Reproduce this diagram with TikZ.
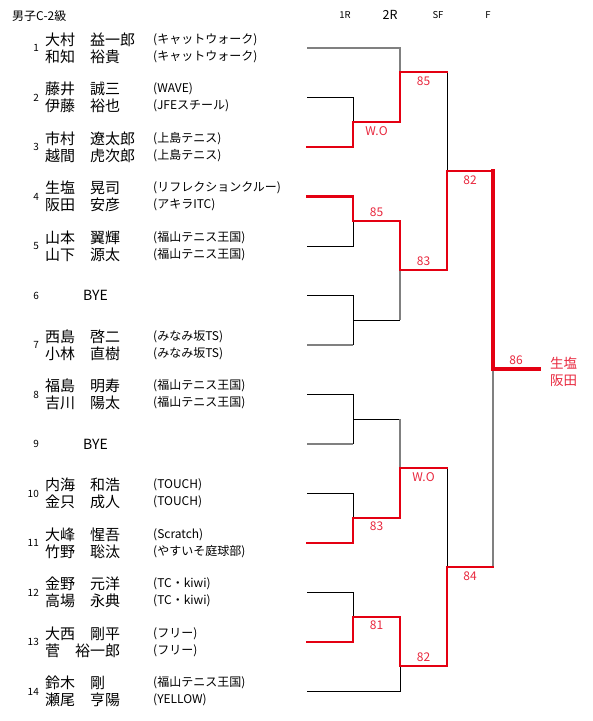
\documentclass[tikz,border=0pt]{standalone}
\usepackage{fontspec}
\setmainfont{Noto Sans CJK JP}
\usetikzlibrary{positioning,calc}

\definecolor{winred}{RGB}{228,0,18}
\definecolor{scorered}{RGB}{232,40,62}
\definecolor{losegray}{RGB}{128,128,128}

\begin{document}
\begin{tikzpicture}[
    x=1pt, y=-1pt,
    num/.style={anchor=east, inner sep=0pt, font=\fontsize{10}{12}\selectfont},
    player/.style={anchor=west, inner sep=0pt, align=left, font=\fontsize{15}{17}\selectfont},
    club/.style={anchor=west, inner sep=0pt, align=left, font=\fontsize{12}{17}\selectfont},
    bye/.style={anchor=west, inner sep=0pt, font=\fontsize{14}{16}\selectfont},
    hdr/.style={inner sep=0pt, font=\fontsize{9.5}{11}\selectfont},
    score/.style={inner sep=0pt, font=\fontsize{12}{13}\selectfont, text=scorered},
    winner/.style={inner sep=0pt, align=left, font=\fontsize{13.5}{17}\selectfont, text=scorered},
    thinline/.style={line width=0.9pt, black},
    grayline/.style={line width=1.3pt, losegray},
    redline/.style={line width=2.3pt, winred, line cap=rect},
    redthick/.style={line width=2.8pt, winred, line cap=rect},
    redfinal/.style={line width=3.2pt, winred, line cap=rect},
]
\useasboundingbox (0,0) rectangle (593,721);

% Title and round headers
\node[anchor=west, inner sep=0pt, font=\fontsize{12}{13}\selectfont] (title) at (12,16) {男子C-2級};
\node[hdr] (h1) at (345,15) {1R};
\node[hdr, font=\fontsize{12.5}{14}\selectfont] (h2) at (390,15) {2R};
\node[hdr] (h3) at (438,15) {SF};
\node[hdr] (h4) at (488,15) {F};

% Entries
\node[num] (n1) at (39,48) {1};
\node[player] (p1) at (45,48) {大村　益一郎\\和知　裕貴};
\node[club] (c1) at (153,48) {(キャットウォーク)\\(キャットウォーク)};

\node[num] (n2) at (39,97.5) {2};
\node[player] (p2) at (45,97.5) {藤井　誠三\\伊藤　裕也};
\node[club] (c2) at (153,97.5) {(WAVE)\\(JFEスチール)};

\node[num] (n3) at (39,147) {3};
\node[player] (p3) at (45,147) {市村　遼太郎\\越間　虎次郎};
\node[club] (c3) at (153,147) {(上島テニス)\\(上島テニス)};

\node[num] (n4) at (39,196.5) {4};
\node[player] (p4) at (45,196.5) {生塩　晃司\\阪田　安彦};
\node[club] (c4) at (153,196.5) {(リフレクションクルー)\\(アキラITC)};

\node[num] (n5) at (39,246) {5};
\node[player] (p5) at (45,246) {山本　翼輝\\山下　源太};
\node[club] (c5) at (153,246) {(福山テニス王国)\\(福山テニス王国)};

\node[num] (n6) at (39,295.5) {6};
\node[bye] (p6) at (83,295.5) {BYE};

\node[num] (n7) at (39,345) {7};
\node[player] (p7) at (45,345) {西島　啓二\\小林　直樹};
\node[club] (c7) at (153,345) {(みなみ坂TS)\\(みなみ坂TS)};

\node[num] (n8) at (39,394.5) {8};
\node[player] (p8) at (45,394.5) {福島　明寿\\吉川　陽太};
\node[club] (c8) at (153,394.5) {(福山テニス王国)\\(福山テニス王国)};

\node[num] (n9) at (39,444) {9};
\node[bye] (p9) at (83,444) {BYE};

\node[num] (n10) at (39,493.5) {10};
\node[player] (p10) at (45,493.5) {内海　和浩\\金只　成人};
\node[club] (c10) at (153,493.5) {(TOUCH)\\(TOUCH)};

\node[num] (n11) at (39,543) {11};
\node[player] (p11) at (45,543) {大峰　惺吾\\竹野　聡汰};
\node[club] (c11) at (153,543) {(Scratch)\\(やすいそ庭球部)};

\node[num] (n12) at (39,592.5) {12};
\node[player] (p12) at (45,592.5) {金野　元洋\\高場　永典};
\node[club] (c12) at (153,592.5) {(TC・kiwi)\\(TC・kiwi)};

\node[num] (n13) at (39,642) {13};
\node[player] (p13) at (45,642) {大西　剛平\\菅　裕一郎};
\node[club] (c13) at (153,642) {(フリー)\\(フリー)};

\node[num] (n14) at (39,691.5) {14};
\node[player] (p14) at (45,691.5) {鈴木　剛\\瀬尾　亨陽};
\node[club] (c14) at (153,691.5) {(福山テニス王国)\\(YELLOW)};

% Bracket points
\coordinate (e1) at (307,48);
\coordinate (e2) at (307,97.5);
\coordinate (e3) at (307,147);
\coordinate (e4) at (307,196.5);
\coordinate (e5) at (307,246);
\coordinate (e6) at (307,295.5);
\coordinate (e7) at (307,345);
\coordinate (e8) at (307,394.5);
\coordinate (e9) at (307,444);
\coordinate (e10) at (307,493.5);
\coordinate (e11) at (307,543);
\coordinate (e12) at (307,592.5);
\coordinate (e13) at (307,642);
\coordinate (e14) at (307,691.5);
\coordinate (m23) at (353,122);
\coordinate (m45) at (353,221);
\coordinate (m67) at (353,320);
\coordinate (m89) at (353,419);
\coordinate (m1011) at (353,518);
\coordinate (m1213) at (353,617);
\coordinate (q1) at (400,72);
\coordinate (q2) at (400,270);
\coordinate (q3) at (400,468);
\coordinate (q4) at (400,666);
\coordinate (s1) at (447,171);
\coordinate (s2) at (447,567);
\coordinate (fin) at (493,369);
\coordinate (champ) at (539,369);

% Losing lines
\draw[grayline] (e1) -| (q1);
\draw[thinline] (e2) -| (m23);
\draw[thinline] (e5) -| (m45);
\draw[thinline] (e6) -| (m67);
\draw[grayline] (e7) -- (e7 -| m67);
\draw[thinline] (e7 -| m67) -- (m67) -- (m67 -| q2);
\draw[grayline] (m67 -| q2) -- (q2);
\draw[thinline] (q1 -| s1) -- (s1);
\draw[thinline] (e8) -| (m89);
\draw[grayline] (e9) -- (e9 -| m89);
\draw[thinline] (e9 -| m89) -- (m89) -- (m89 -| q3);
\draw[grayline] (m89 -| q3) -- (q3);
\draw[thinline] (e10) -| (m1011);
\draw[thinline] (e12) -| (m1213);
\draw[thinline] (e14) -| (q4);
\draw[thinline] (q3 -| s2) -- (s2);
\draw[grayline, line width=2pt] (s2 -| fin) -- (fin);

% Winning paths
\draw[redline] (e3) -| (m23) -- node[score, below=3pt] (sc1) {W.O} (m23 -| q1);
\draw[redthick] (m23 -| q1) -- (q1) -- node[score, below=3pt] (sc2) {85} (q1 -| s1);

\draw[redline] (e4) -| (m45) -- node[score, above=3pt] (sc3) {85} (m45 -| q2);
\draw[redthick] (m45 -| q2) -- (q2) -- node[score, above=3pt] (sc4) {83} (q2 -| s1) -- (s1) -- node[score, below=3pt] (sc5) {82} (s1 -| fin);
\draw[redfinal] (s1 -| fin) -- (fin) -- node[score, above=3pt] (sc6) {86} (champ);

\draw[redline] (e11) -| (m1011) -- node[score, below=3pt] (sc7) {83} (m1011 -| q3);
\draw[redthick] (m1011 -| q3) -- (q3) -- node[score, below=3pt] (sc8) {W.O} (q3 -| s2);

\draw[redline] (e13) -| (m1213) -- node[score, below=3pt] (sc9) {81} (m1213 -| q4);
\draw[redthick] (m1213 -| q4) -- (q4) -- node[score, above=3pt] (sc10) {82} (q4 -| s2) -- (s2) -- node[score, below=3pt] (sc11) {84} (s2 -| fin);

% Champion
\node[winner, right=11pt of champ, yshift=-2.5pt] (wname) {生塩\\阪田};

\end{tikzpicture}
\end{document}
